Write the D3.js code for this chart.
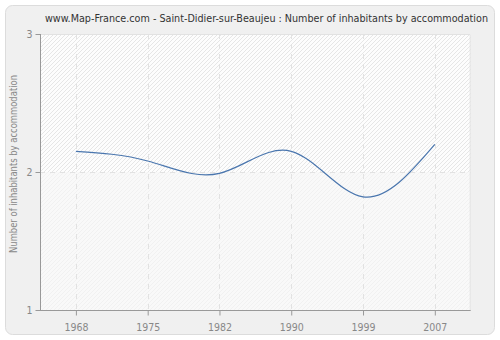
<!DOCTYPE html>
<html lang="en">
<head>
<meta charset="UTF-8">
<title>Number of inhabitants by accommodation</title>
<script src="https://d3js.org/d3.v7.min.js"></script>
<style>
    body { margin: 0; background: #fff; }
    svg { display: block; font-family: "DejaVu Sans Condensed", "DejaVu Sans", sans-serif; }
</style>
</head>
<body>
<script>
    const years = ["1968", "1975", "1982", "1990", "1999", "2007"];
    const values = [2.15, 2.08, 1.99, 2.15, 1.82, 2.20];
    const yTicks = [1, 2, 3];

    const width = 500, height = 340;
    const margin = { left: 40, right: 29.3, top: 34, bottom: 30 };
    const font = "'DejaVu Sans Condensed', 'DejaVu Sans', sans-serif";

    const svg = d3.select("body").append("svg")
        .attr("width", width)
        .attr("height", height);

    const defs = svg.append("defs");
    const hatch = defs.append("pattern")
        .attr("id", "hatch")
        .attr("patternUnits", "userSpaceOnUse")
        .attr("width", 4).attr("height", 4);
    hatch.append("rect").attr("width", 4).attr("height", 4).attr("fill", "#fdfdfd");
    hatch.append("path").attr("d", "M-1,1 l2,-2 M0,4 l4,-4 M3,5 l2,-2")
        .attr("stroke", "#e6e6e6").attr("stroke-width", 1);

    const hatchLight = defs.append("pattern")
        .attr("id", "hatchLight")
        .attr("patternUnits", "userSpaceOnUse")
        .attr("width", 4).attr("height", 4);
    hatchLight.append("rect").attr("width", 4).attr("height", 4).attr("fill", "#f9f9f9");
    hatchLight.append("path").attr("d", "M-1,1 l2,-2 M0,4 l4,-4 M3,5 l2,-2")
        .attr("stroke", "#f1f1f1").attr("stroke-width", 1);

    // card background
    svg.append("rect")
        .attr("x", 5.5).attr("y", 5.5)
        .attr("width", width - 11).attr("height", height - 11)
        .attr("rx", 7)
        .attr("fill", "#f0f0f0")
        .attr("stroke", "#dcdcdc");

    const x = d3.scalePoint()
        .domain(years)
        .range([margin.left, width - margin.right])
        .padding(0.5);

    const y = d3.scaleLinear()
        .domain([1, 3])
        .range([height - margin.bottom, margin.top]);

    // plot area
    svg.append("rect")
        .attr("x", margin.left).attr("y", y(3))
        .attr("width", x.range()[1] - margin.left)
        .attr("height", y(2) - y(3))
        .attr("fill", "url(#hatch)");
    svg.append("rect")
        .attr("x", margin.left).attr("y", y(2))
        .attr("width", x.range()[1] - margin.left)
        .attr("height", y(1) - y(2))
        .attr("fill", "url(#hatchLight)");
    svg.append("path")
        .attr("d", `M${margin.left},${y(3) + 0.5}H${x.range()[1] - 0.5}V${y(1)}`)
        .attr("fill", "none")
        .attr("stroke", "#e2e2e2");

    // grid
    const grid = svg.append("g")
        .attr("stroke", "#e2e2e2")
        .attr("stroke-dasharray", "5,5");
    grid.selectAll("line.v").data(years).enter().append("line")
        .attr("x1", d => Math.round(x(d)) + 0.5).attr("x2", d => Math.round(x(d)) + 0.5)
        .attr("y1", y(3)).attr("y2", y(1));
    grid.selectAll("line.h").data([2]).enter().append("line")
        .attr("x1", margin.left).attr("x2", x.range()[1])
        .attr("y1", d => Math.round(y(d)) + 0.5).attr("y2", d => Math.round(y(d)) + 0.5);

    // line
    const line = d3.line()
        .x((d, i) => x(years[i]))
        .y(d => y(d))
        .curve(d3.curveNatural);

    svg.append("path")
        .datum(values)
        .attr("d", line)
        .attr("fill", "none")
        .attr("stroke", "#4a76ae")
        .attr("stroke-width", 1.2);

    // axes
    const xAxis = svg.append("g")
        .attr("transform", `translate(0,${y(1) + 0.5})`)
        .call(d3.axisBottom(x).tickSizeOuter(0).tickSize(5));
    const yAxis = svg.append("g")
        .attr("transform", `translate(${margin.left + 0.5},0)`)
        .call(d3.axisLeft(y).tickValues(yTicks).tickFormat(d3.format("d")).tickSizeOuter(0).tickSize(5));

    [xAxis, yAxis].forEach(a => {
        a.select(".domain").attr("stroke", "#999");
        a.selectAll(".tick line").attr("stroke", "#999");
        a.selectAll(".tick text")
            .attr("fill", "#888")
            .style("font-size", "10.5px")
            .style("font-family", font);
    });
    xAxis.selectAll(".tick text").attr("dy", "1.15em");
    xAxis.select(".domain").attr("d", `M${margin.left},0H${x.range()[1]}`);
    yAxis.select(".domain").attr("d", `M0,${y(3)}V${y(1)}`);

    // title
    svg.append("text")
        .attr("x", 266.5).attr("y", 22)
        .attr("text-anchor", "middle")
        .attr("fill", "#333")
        .attr("textLength", 443)
        .attr("lengthAdjust", "spacingAndGlyphs")
        .style("font-size", "11px")
        .text("www.Map-France.com - Saint-Didier-sur-Beaujeu : Number of inhabitants by accommodation");

    // y label
    svg.append("text")
        .attr("transform", `translate(17,164) rotate(-90)`)
        .attr("text-anchor", "middle")
        .attr("fill", "#888")
        .attr("textLength", 178)
        .attr("lengthAdjust", "spacingAndGlyphs")
        .style("font-size", "11px")
        .text("Number of inhabitants by accommodation");
</script>
</body>
</html>
